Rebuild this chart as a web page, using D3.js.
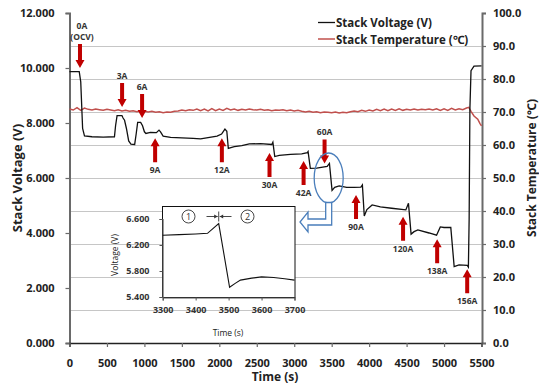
<!DOCTYPE html>
<html>
<head>
<meta charset="utf-8">
<script src="https://cdn.jsdelivr.net/npm/d3@7"></script>
<style>
  body { margin: 0; background: #fff; }
  text { font-family: "Open Sans", "Noto Sans", sans-serif; }
</style>
</head>
<body>
<div id="vis"></div>
<script>
// voltage trace (time s, stack voltage V)
var voltTime = [0, 130, 150, 175, 200, 300, 450, 600, 615, 635, 700, 715, 735, 760, 790, 820, 870, 890, 910, 950, 975, 1000, 1020, 1080, 1160, 1195, 1215, 1250, 1350, 1500, 1650, 1750, 1850, 1970, 2030, 2075, 2100, 2120, 2200, 2300, 2400, 2550, 2700, 2715, 2740, 2800, 2950, 3100, 3175, 3185, 3215, 3300, 3440, 3470, 3505, 3540, 3600, 3700, 3800, 3890, 3910, 3935, 3970, 4040, 4150, 4300, 4490, 4525, 4560, 4600, 4650, 4800, 4900, 4950, 5000, 5090, 5135, 5200, 5310, 5325, 5335, 5345, 5360, 5400, 5500];
var voltValue = [9.87, 9.87, 9.5, 7.8, 7.53, 7.50, 7.49, 7.50, 7.9, 8.27, 8.27, 8.18, 8.1, 7.8, 7.35, 7.23, 7.22, 7.6, 8.02, 8.02, 7.9, 7.68, 7.62, 7.66, 7.65, 7.74, 7.68, 7.52, 7.48, 7.46, 7.44, 7.42, 7.47, 7.52, 7.6, 7.78, 7.7, 7.08, 7.14, 7.18, 7.24, 7.25, 7.22, 7.3, 6.78, 6.82, 6.86, 6.88, 6.92, 6.96, 6.35, 6.36, 6.42, 6.53, 5.55, 5.66, 5.71, 5.66, 5.66, 5.67, 5.75, 4.62, 4.85, 5.02, 4.95, 4.9, 4.84, 5.08, 3.96, 4.05, 4.11, 4.0, 3.92, 4.22, 4.2, 4.2, 2.78, 2.84, 2.82, 2.76, 4.5, 8.5, 9.9, 10.07, 10.08];

// temperature trace (time s, deg C)
var tempTime = [0, 50, 100, 150, 200, 250, 300, 350, 400, 450, 500, 550, 600, 650, 700, 750, 800, 850, 900, 950, 1000, 1050, 1100, 1150, 1200, 1250, 1300, 1350, 1400, 1450, 1500, 1550, 1600, 1650, 1700, 1750, 1800, 1850, 1900, 1950, 2000, 2050, 2100, 2150, 2200, 2250, 2300, 2350, 2400, 2450, 2500, 2550, 2600, 2650, 2700, 2750, 2800, 2850, 2900, 2950, 3000, 3050, 3100, 3150, 3200, 3250, 3300, 3350, 3400, 3450, 3500, 3550, 3600, 3650, 3700, 3750, 3800, 3850, 3900, 3950, 4000, 4050, 4100, 4150, 4200, 4250, 4300, 4350, 4400, 4450, 4500, 4550, 4600, 4650, 4700, 4750, 4800, 4850, 4900, 4950, 5000, 5050, 5100, 5150, 5200, 5250, 5300, 5330, 5360, 5400, 5450, 5480, 5500];
var tempValue = [70.9, 70.6, 71.3, 70.5, 71.2, 70.8, 70.6, 70.9, 70.7, 70.5, 70.8, 70.6, 70.4, 70.7, 70.3, 70.5, 70.2, 70.4, 70.1, 70.3, 70.2, 70.0, 70.2, 69.9, 70.1, 69.8, 70.0, 69.9, 70.2, 70.3, 70.6, 70.4, 70.7, 70.5, 70.9, 70.4, 70.9, 70.3, 71.0, 70.4, 70.9, 70.5, 71.1, 70.6, 70.9, 70.5, 70.8, 70.6, 70.9, 70.7, 70.6, 70.8, 70.5, 70.7, 70.4, 70.6, 70.5, 70.7, 70.4, 70.6, 70.3, 70.5, 70.2, 70.0, 70.2, 69.9, 70.1, 69.8, 70.0, 69.9, 69.8, 70.0, 69.7, 69.9, 69.8, 70.1, 70.3, 70.1, 70.5, 70.2, 70.6, 70.3, 70.8, 70.4, 70.9, 70.4, 70.9, 70.5, 71.0, 70.5, 70.8, 70.6, 70.9, 70.6, 70.8, 70.7, 70.9, 70.6, 71.0, 70.5, 71.0, 70.5, 71.1, 70.6, 71.0, 70.7, 71.2, 71.4, 70.2, 68.8, 67.8, 66.5, 65.8];

// zoomed inset trace around the 42A -> 60A step
var insetTime = [3300, 3350, 3400, 3436, 3470, 3503, 3520, 3536, 3570, 3600, 3637, 3670, 3700];
var insetValue = [6.35, 6.36, 6.37, 6.38, 6.53, 5.55, 5.61, 5.66, 5.69, 5.71, 5.70, 5.68, 5.66];

// current step arrows: label, time, voltage at the tip, direction
var stepLabel = ["0A", "3A", "6A", "9A", "12A", "30A", "42A", "60A", "90A", "120A", "138A", "156A"];
var stepTime = [140, 702, 969, 1143, 2034, 2670, 3125, 3405, 3825, 4453, 4908, 5309];
var stepTip = [10.0, 8.58, 8.18, 7.45, 7.45, 6.91, 6.62, 6.53, 5.38, 4.59, 3.77, 2.68];
var stepDir = ["down", "down", "down", "up", "up", "up", "up", "down", "up", "up", "up", "up"];

var voltTicks = [0, 2, 4, 6, 8, 10, 12];
var tempTicks = [0, 10, 20, 30, 40, 50, 60, 70, 80, 90, 100];
var timeTicks = [0, 500, 1000, 1500, 2000, 2500, 3000, 3500, 4000, 4500, 5000, 5500];
var insetVoltTicks = [5.4, 5.8, 6.2, 6.6];
var insetTimeTicks = [3300, 3400, 3500, 3600, 3700];

var svg = d3.select("#vis").append("svg").attr("width", 539).attr("height", 385);

var xScale = d3.scaleLinear().domain([0, 5500]).range([69.5, 481.5]);
var yVolt = d3.scaleLinear().domain([0, 12]).range([343, 13]);
var yTemp = d3.scaleLinear().domain([0, 100]).range([343, 13]);

// gridlines come from the temperature axis
svg.append("g").selectAll("line")
    .data(tempTicks.filter(function(d){ return d > 0 && d < 100; }))
    .enter().append("line")
    .attr("x1", 69.5).attr("x2", 481.5)
    .attr("y1", function(d){ return Math.round(yTemp(d)) + 0.5; })
    .attr("y2", function(d){ return Math.round(yTemp(d)) + 0.5; })
    .attr("stroke", "#c6c6c6").attr("stroke-width", 1);

// axes
var leftAxis = d3.axisLeft(yVolt).tickValues(voltTicks).tickSize(4).tickPadding(11).tickFormat(d3.format(".3f"));
var rightAxis = d3.axisRight(yTemp).tickValues(tempTicks).tickSize(4).tickPadding(7).tickFormat(d3.format(".1f"));
var bottomAxis = d3.axisBottom(xScale).tickValues(timeTicks).tickSize(4).tickPadding(12).tickFormat(d3.format("d"));

var gl = svg.append("g").attr("transform", "translate(69.5,0)").call(leftAxis);
var gr = svg.append("g").attr("transform", "translate(482,0)").call(rightAxis);
var gb = svg.append("g").attr("transform", "translate(0,343)").call(bottomAxis);

[gl, gr, gb].forEach(function(g){
    g.select(".domain").attr("stroke", "#6a6a6a").attr("stroke-width", 2);
    g.selectAll(".tick line").attr("stroke", "#6a6a6a").attr("stroke-width", 1.2);
    g.selectAll(".tick text").attr("font-size", 11).attr("font-weight", "bold").attr("fill", "#222")
        .style("font-family", "'Open Sans', 'Noto Sans', sans-serif");
});
gb.select(".domain").attr("stroke", "#222").attr("stroke-width", 1.5);

// axis titles
svg.append("text")
    .attr("transform", "translate(22,178) rotate(-90)")
    .attr("text-anchor", "middle")
    .attr("font-size", 13).attr("font-weight", "bold").attr("fill", "#222")
    .text("Stack Voltage (V)");

svg.append("text")
    .attr("transform", "translate(536,168) rotate(-90)")
    .attr("text-anchor", "middle")
    .attr("font-size", 12).attr("font-weight", "bold").attr("fill", "#222")
    .text("Stack Temperature (℃)");

svg.append("text")
    .attr("x", 275).attr("y", 381)
    .attr("text-anchor", "middle")
    .attr("font-size", 12).attr("font-weight", "bold").attr("fill", "#222")
    .text("Time (s)");

// the two series
var tempLine = d3.line()
    .x(function(d, i){ return xScale(tempTime[i]); })
    .y(function(d){ return yTemp(d); });
svg.append("path").datum(tempValue)
    .attr("d", tempLine)
    .attr("fill", "none").attr("stroke", "#c0504d").attr("stroke-width", 1.5);

var voltLine = d3.line()
    .x(function(d, i){ return xScale(voltTime[i]); })
    .y(function(d){ return yVolt(d); });
svg.append("path").datum(voltValue)
    .attr("d", voltLine)
    .attr("fill", "none").attr("stroke", "#111").attr("stroke-width", 1.3);

// legend
var legend = svg.append("g");
legend.append("line").attr("x1", 318).attr("x2", 335).attr("y1", 22.5).attr("y2", 22.5)
    .attr("stroke", "#111").attr("stroke-width", 1.3);
legend.append("text").attr("x", 336).attr("y", 27)
    .attr("font-size", 11.5).attr("font-weight", "bold").attr("fill", "#222")
    .text("Stack Voltage (V)");
legend.append("line").attr("x1", 318).attr("x2", 335).attr("y1", 39).attr("y2", 39)
    .attr("stroke", "#c0504d").attr("stroke-width", 1.5);
legend.append("text").attr("x", 336).attr("y", 43.5)
    .attr("font-size", 11.5).attr("font-weight", "bold").attr("fill", "#222")
    .text("Stack Temperature (℃)");

// red step arrows with current labels
var arrowLen = 24;
var arrows = svg.append("g");
stepLabel.forEach(function(lab, i){
    var ax = xScale(stepTime[i]);
    var tip = yVolt(stepTip[i]);
    var s = stepDir[i] == "down" ? -1 : 1;   // tail is above the tip for down arrows
    var tail = tip + s * arrowLen;
    var headBase = tip + s * 8;
    arrows.append("path")
        .attr("d", "M" + (ax - 2) + "," + tail + " L" + (ax + 2) + "," + tail +
                   " L" + (ax + 2) + "," + headBase + " L" + (ax + 4.5) + "," + headBase +
                   " L" + ax + "," + tip + " L" + (ax - 4.5) + "," + headBase +
                   " L" + (ax - 2) + "," + headBase + " Z")
        .attr("fill", "#c00000");
    if (stepDir[i] == "down") {
        if (lab == "0A") {
            arrows.append("text").attr("x", ax + 2).attr("y", tail - 15).attr("text-anchor", "middle")
                .attr("font-size", 8.5).attr("font-weight", "bold").attr("fill", "#333").text("0A");
            arrows.append("text").attr("x", ax + 2).attr("y", tail - 4).attr("text-anchor", "middle")
                .attr("font-size", 8.5).attr("font-weight", "bold").attr("fill", "#333").text("(OCV)");
        } else {
            arrows.append("text").attr("x", ax).attr("y", tail - 4).attr("text-anchor", "middle")
                .attr("font-size", 8.5).attr("font-weight", "bold").attr("fill", "#333").text(lab);
        }
    } else {
        arrows.append("text").attr("x", ax).attr("y", tail + 11).attr("text-anchor", "middle")
            .attr("font-size", 8.5).attr("font-weight", "bold").attr("fill", "#333").text(lab);
    }
});

// blue ellipse around the 60A step and the bent block arrow to the inset
var ex = xScale(3460), ey = yVolt(6.0);
svg.append("ellipse").attr("cx", ex).attr("cy", ey).attr("rx", 14.5).attr("ry", 25)
    .attr("fill", "none").attr("stroke", "#4a7ebb").attr("stroke-width", 1.3);
svg.append("path")
    .attr("d", "M" + (ex - 3) + "," + (ey + 24.5) + " L" + (ex + 3) + "," + (ey + 24.5) +
               " L" + (ex + 3) + "," + 225 + " L308,225 L308,232 L300,222 L308,212 L308,219" +
               " L" + (ex - 3) + ",219 Z")
    .attr("fill", "#fff").attr("stroke", "#4a7ebb").attr("stroke-width", 1.3);

// inset
var ix = d3.scaleLinear().domain([3300, 3700]).range([162.7, 294.5]);
var iy = d3.scaleLinear().domain([5.4, 6.6]).range([297, 219]);
var inset = svg.append("g");
inset.append("rect").attr("x", 162.5).attr("y", 206.5).attr("width", 132.5).attr("height", 91)
    .attr("fill", "#fff").attr("stroke", "#111").attr("stroke-width", 1);

var il = inset.append("g").attr("transform", "translate(162.5,0)")
    .call(d3.axisLeft(iy).tickValues(insetVoltTicks).tickSize(3).tickPadding(10).tickFormat(d3.format(".3f")));
var ib = inset.append("g").attr("transform", "translate(0,297.5)")
    .call(d3.axisBottom(ix).tickValues(insetTimeTicks).tickSize(3).tickPadding(6).tickFormat(d3.format("d")));
[il, ib].forEach(function(g){
    g.select(".domain").attr("stroke", "#555").attr("stroke-width", 1.2);
    g.selectAll(".tick line").attr("stroke", "#555");
    g.selectAll(".tick text").attr("font-size", 9).attr("font-weight", "bold").attr("fill", "#333")
        .style("font-family", "'Open Sans', 'Noto Sans', sans-serif");
});

inset.append("text").attr("transform", "translate(118,255) rotate(-90)").attr("text-anchor", "middle")
    .attr("font-size", 8.5).attr("fill", "#222").text("Voltage (V)");
inset.append("text").attr("x", 228).attr("y", 336).attr("text-anchor", "middle")
    .attr("font-size", 8.5).attr("fill", "#222").text("Time (s)");

var insetLine = d3.line()
    .x(function(d, i){ return ix(insetTime[i]); })
    .y(function(d){ return iy(d); });
inset.append("path").datum(insetValue)
    .attr("d", insetLine)
    .attr("fill", "none").attr("stroke", "#111").attr("stroke-width", 1.1);

// circled numbers and the little double arrow at the peak
var px = ix(3470);
[["①", 188.5], ["②", 247.5]].forEach(function(c){
    inset.append("circle").attr("cx", c[1]).attr("cy", 216.5).attr("r", 6.5)
        .attr("fill", "#fff").attr("stroke", "#333").attr("stroke-width", 0.9);
    inset.append("text").attr("x", c[1]).attr("y", 219.8).attr("text-anchor", "middle")
        .attr("font-size", 9).attr("fill", "#333").text(c[0] == "①" ? "1" : "2");
});
inset.append("line").attr("x1", px).attr("x2", px).attr("y1", 211.5).attr("y2", 221.5)
    .attr("stroke", "#333").attr("stroke-width", 0.9);
inset.append("line").attr("x1", 206.5).attr("x2", px - 1).attr("y1", 216.5).attr("y2", 216.5)
    .attr("stroke", "#333").attr("stroke-width", 0.9);
inset.append("line").attr("x1", px + 1).attr("x2", 231.5).attr("y1", 216.5).attr("y2", 216.5)
    .attr("stroke", "#333").attr("stroke-width", 0.9);
inset.append("path").attr("d", "M" + (px - 1) + ",216.5 L" + (px - 4.5) + ",214.5 L" + (px - 4.5) + ",218.5 Z").attr("fill", "#333");
inset.append("path").attr("d", "M" + (px + 1) + ",216.5 L" + (px + 4.5) + ",214.5 L" + (px + 4.5) + ",218.5 Z").attr("fill", "#333");
</script>
</body>
</html>
